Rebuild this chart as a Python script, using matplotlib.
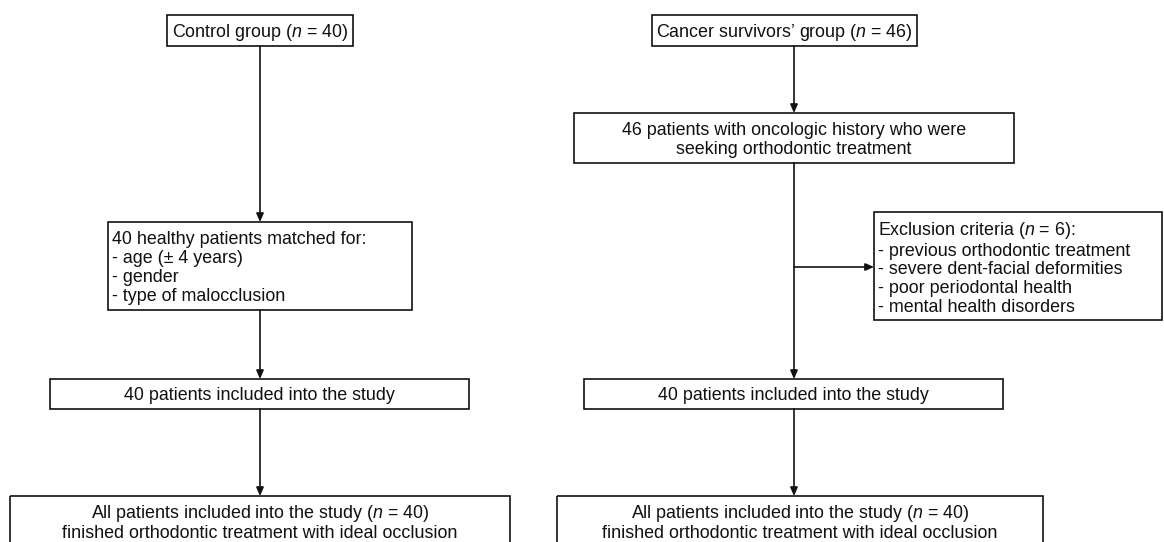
import matplotlib.pyplot as plt
from matplotlib.patches import Rectangle

plt.rcParams['font.family'] = ['Liberation Sans', 'DejaVu Sans']
plt.rcParams['mathtext.fontset'] = 'custom'
plt.rcParams['mathtext.rm'] = 'Liberation Sans'
plt.rcParams['mathtext.it'] = 'Liberation Sans:italic'

# boxes (pixel coordinates, y downwards)
box_texts = [
    "Control group ($n$ = 40)",
    "40 healthy patients matched for:\n- age (± 4 years)\n- gender\n- type of malocclusion",
    "40 patients included into the study",
    "All patients included into the study ($n$ = 40)\nfinished orthodontic treatment with ideal occlusion",
    "Cancer survivors’ group ($n$ = 46)",
    "46 patients with oncologic history who were\nseeking orthodontic treatment",
    "Exclusion criteria ($n$ = 6):\n- previous orthodontic treatment\n- severe dent-facial deformities\n- poor periodontal health\n- mental health disorders",
    "40 patients included into the study",
    "All patients included into the study ($n$ = 40)\nfinished orthodontic treatment with ideal occlusion",
]
box_x0 = [167, 108, 50, 10, 652, 574, 874, 584, 557]
box_x1 = [353, 412, 469, 510, 917, 1014, 1162, 1003, 1043]
box_y0 = [15, 222, 379, 496, 15, 113, 212, 379, 496]
box_y1 = [46, 310, 409, 560, 46, 163, 320, 409, 560]
box_left = [False, True, False, False, False, False, True, False, False]

# arrows: x0, y0, x1, y1
arrows = [
    (260, 46, 260, 222),
    (260, 310, 260, 379),
    (260, 409, 260, 496),
    (794, 46, 794, 113),
    (794, 163, 794, 379),
    (794, 267, 874, 267),
    (794, 409, 794, 496),
]

fig = plt.figure(figsize=(11.64, 5.42), dpi=100)
ax = fig.add_axes([0, 0, 1, 1])
ax.set_xlim(0, 1164)
ax.set_ylim(542, 0)
ax.axis('off')

fs = 12.9
for i in range(len(box_texts)):
    x0, x1, y0, y1 = box_x0[i], box_x1[i], box_y0[i], box_y1[i]
    ax.add_patch(Rectangle((x0, y0), x1 - x0, y1 - y0, fill=False,
                           edgecolor='#111111', linewidth=1.2))
    yc = (y0 + y1) / 2 + 2 if y1 <= 542 else 522.5
    if box_left[i]:
        ax.text(x0 + 4, yc, box_texts[i], ha='left', va='center',
                fontsize=fs, linespacing=1.15, color='#111111')
    else:
        ax.text((x0 + x1) / 2, yc, box_texts[i], ha='center', va='center',
                fontsize=fs, linespacing=1.15, color='#111111')

for (xa, ya, xb, yb) in arrows:
    ax.annotate('', xy=(xb, yb), xytext=(xa, ya),
                arrowprops=dict(arrowstyle='-|>,head_length=0.5,head_width=0.22',
                                color='#111111', lw=1.2, shrinkA=0, shrinkB=0))

fig.savefig('out.png', dpi=100)
